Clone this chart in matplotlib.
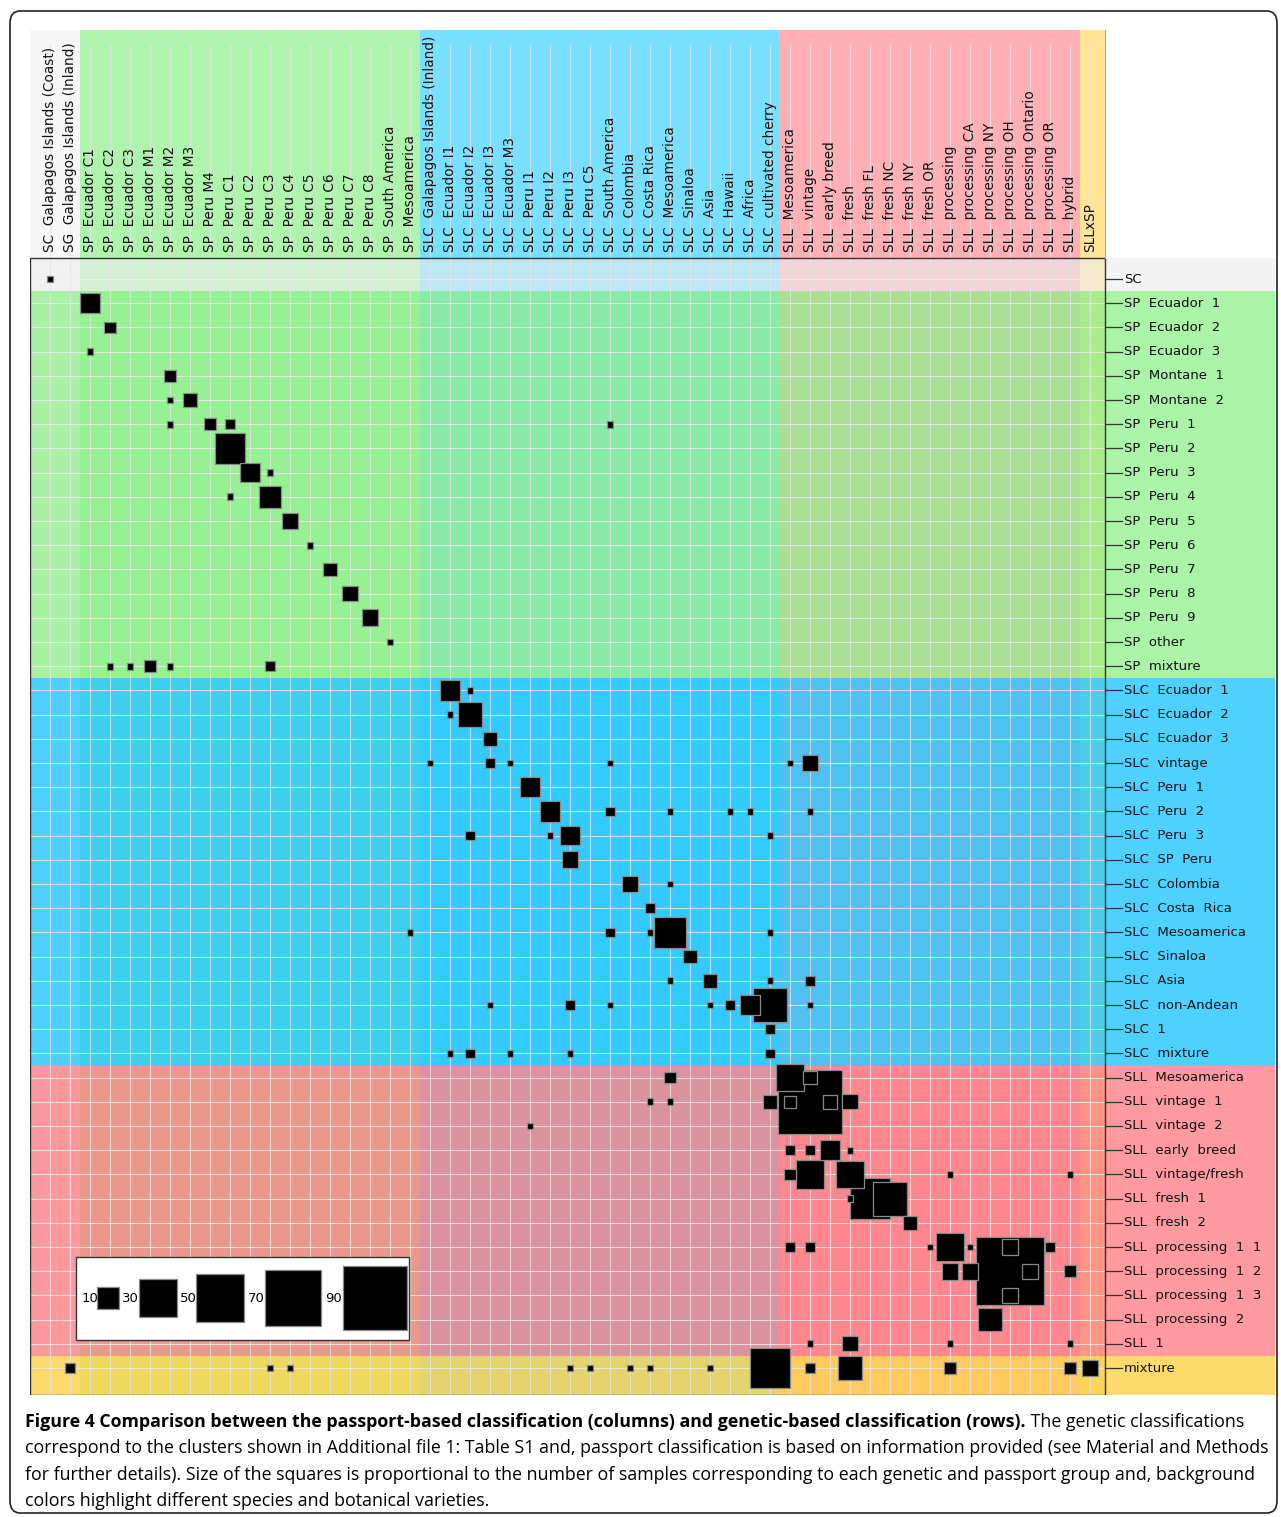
import matplotlib
matplotlib.use("Agg")
import matplotlib.pyplot as plt
from matplotlib.patches import Rectangle, FancyBboxPatch
import numpy as np

col_labels = ["SC  Galapagos Islands (Coast)", "SG  Galapagos Islands (Inland)",
    "SP  Ecuador C1", "SP  Ecuador C2", "SP  Ecuador C3", "SP  Ecuador M1", "SP  Ecuador M2", "SP  Ecuador M3",
    "SP  Peru M4", "SP  Peru C1", "SP  Peru C2", "SP  Peru C3", "SP  Peru C4", "SP  Peru C5", "SP  Peru C6",
    "SP  Peru C7", "SP  Peru C8", "SP  South America", "SP  Mesoamerica",
    "SLC  Galapagos Islands (Inland)", "SLC  Ecuador I1", "SLC  Ecuador I2", "SLC  Ecuador I3", "SLC  Ecuador M3",
    "SLC  Peru I1", "SLC  Peru I2", "SLC  Peru I3", "SLC  Peru C5", "SLC  South America", "SLC  Colombia",
    "SLC  Costa Rica", "SLC  Mesoamerica", "SLC  Sinaloa", "SLC  Asia", "SLC  Hawaii", "SLC  Africa",
    "SLC  cultivated cherry",
    "SLL  Mesoamerica", "SLL  vintage", "SLL  early breed", "SLL  fresh", "SLL  fresh FL", "SLL  fresh NC",
    "SLL  fresh NY", "SLL  fresh OR", "SLL  processing", "SLL  processing CA", "SLL  processing NY",
    "SLL  processing OH", "SLL  processing Ontario", "SLL  processing OR", "SLL  hybrid", "SLLxSP"]

row_labels = ["SC", "SP  Ecuador  1", "SP  Ecuador  2", "SP  Ecuador  3", "SP  Montane  1", "SP  Montane  2",
    "SP  Peru  1", "SP  Peru  2", "SP  Peru  3", "SP  Peru  4", "SP  Peru  5", "SP  Peru  6", "SP  Peru  7",
    "SP  Peru  8", "SP  Peru  9", "SP  other", "SP  mixture",
    "SLC  Ecuador  1", "SLC  Ecuador  2", "SLC  Ecuador  3", "SLC  vintage", "SLC  Peru  1", "SLC  Peru  2",
    "SLC  Peru  3", "SLC  SP  Peru", "SLC  Colombia", "SLC  Costa  Rica", "SLC  Mesoamerica", "SLC  Sinaloa",
    "SLC  Asia", "SLC  non-Andean", "SLC  1", "SLC  mixture",
    "SLL  Mesoamerica", "SLL  vintage  1", "SLL  vintage  2", "SLL  early  breed", "SLL  vintage/fresh",
    "SLL  fresh  1", "SLL  fresh  2", "SLL  processing  1  1", "SLL  processing  1  2",
    "SLL  processing  1  3", "SLL  processing  2", "SLL  1", "mixture"]

# (row index, column index, count)
cell_row = [0, 1, 2, 3, 4, 5, 5, 6, 6, 6, 6, 7, 8, 8, 9, 9, 10, 11, 12, 13, 14, 15,
            16, 16, 16, 16, 16,
            17, 17, 18, 18, 19, 20, 20, 20, 20, 20, 20, 21, 22, 22, 22, 22, 22, 22,
            23, 23, 23, 23, 24, 25, 25, 26, 27, 27, 27, 27, 27, 28, 29, 29, 29, 29,
            30, 30, 30, 30, 30, 30, 30, 30, 31, 32, 32, 32, 32, 32,
            33, 33, 33, 34, 34, 34, 34, 34, 34, 34, 35, 36, 36, 36, 36,
            37, 37, 37, 37, 37, 38, 38, 38, 39,
            40, 40, 40, 40, 40, 40, 40, 41, 41, 41, 41, 41, 42, 43, 44, 44, 44, 44,
            45, 45, 45, 45, 45, 45, 45, 45, 45, 45, 45, 45, 45, 45]
cell_col = [0, 2, 3, 2, 6, 6, 7, 6, 8, 9, 28, 9, 10, 11, 9, 11, 12, 13, 14, 15, 16, 17,
            3, 4, 5, 6, 11,
            20, 21, 20, 21, 22, 19, 22, 23, 28, 37, 38, 24, 25, 28, 31, 34, 35, 38,
            21, 25, 26, 36, 26, 29, 31, 30, 18, 28, 30, 31, 36, 32, 31, 33, 36, 38,
            22, 26, 28, 33, 34, 35, 36, 38, 36, 20, 21, 23, 26, 36,
            31, 37, 38, 36, 37, 38, 39, 40, 30, 31, 24, 37, 38, 39, 40,
            37, 38, 40, 45, 51, 41, 42, 40, 43,
            37, 38, 44, 45, 46, 48, 50, 45, 46, 48, 49, 51, 48, 47, 38, 40, 45, 51,
            1, 11, 12, 26, 27, 29, 30, 33, 36, 38, 40, 45, 51, 52]
cell_n = [1, 9, 3, 1, 3, 1, 4, 1, 3, 2, 1, 20, 8, 1, 1, 11, 5, 1, 4, 5, 6, 1,
          1, 1, 3, 1, 2,
          9, 1, 1, 13, 4, 1, 2, 1, 1, 1, 5, 9, 9, 2, 1, 1, 1, 1,
          2, 1, 8, 1, 6, 5, 1, 2, 1, 2, 1, 21, 1, 4, 1, 4, 1, 2,
          1, 2, 1, 1, 2, 9, 24, 1, 2, 1, 2, 1, 1, 2,
          3, 16, 4, 4, 3, 90, 4, 5, 1, 1, 1, 2, 2, 9, 1,
          3, 18, 16, 1, 1, 36, 25, 1, 4,
          2, 2, 1, 18, 1, 5, 2, 6, 6, 100, 5, 3, 5, 12, 1, 5, 1, 1,
          2, 1, 1, 1, 1, 1, 1, 1, 33, 2, 12, 3, 3, 6]

legend_values = [10, 30, 50, 70, 90]

caption_bold = "Figure 4 Comparison between the passport-based classification (columns) and genetic-based classification (rows)."
caption_rest = [" The genetic classifications",
    "correspond to the clusters shown in Additional file 1: Table S1 and, passport classification is based on information provided (see Material and Methods",
    "for further details). Size of the squares is proportional to the number of samples corresponding to each genetic and passport group and, background",
    "colors highlight different species and botanical varieties."]

W, H = 1281, 1517
fig = plt.figure(figsize=(W / 100, H / 100), dpi=100)
plt.rcParams['font.family'] = ['DejaVu Sans']

def px2c(x): return (x - 50) / 20.0
def py2r(y): return (y - 279) / 24.2

ax = fig.add_axes([30 / W, (H - 1395) / H, 1245 / W, 1365 / H])
ax.set_xlim(px2c(30), px2c(1275))
ax.set_ylim(py2r(1395), py2r(30))
ax.axis("off")

c_left, c_right = px2c(30), px2c(1105)
r_top_hdr, r_top, r_bot = py2r(30), py2r(258), py2r(1395)

col_groups = [(c_left, 1.5, "#f4f4f4"), (1.5, 18.5, "#8ef08a"), (18.5, 36.5, "#3fd2ff"),
              (36.5, 51.5, "#ff8f96"), (51.5, c_right, "#ffd966")]
for a, b, colr in col_groups:
    ax.add_patch(Rectangle((a, r_top_hdr), b - a, r_bot - r_top_hdr, color=colr, alpha=0.7, lw=0, zorder=0))

row_groups = [(r_top, 0.5, "#eeeeee", 0.6), (0.5, 16.5, "#8ef08a", 0.75), (16.5, 32.5, "#22c6ff", 0.8),
              (32.5, 44.5, "#ff7a80", 0.75), (44.5, r_bot, "#ffd24a", 0.8)]
for a, b, colr, al in row_groups:
    ax.add_patch(Rectangle((c_left, a), px2c(1275) - c_left, b - a, color=colr, alpha=al, lw=0, zorder=1))

for c in range(len(col_labels)):
    ax.plot([c, c], [r_top_hdr + 0.6, r_bot], color="#e4e4e4", lw=0.8, alpha=0.8, zorder=2)
for r in range(len(row_labels)):
    ax.plot([c_left, c_right], [r, r], color="#eeeeee", lw=0.8, alpha=0.8, zorder=2)

ax.add_patch(Rectangle((c_left, r_top), c_right - c_left, r_bot - r_top, fill=False, ec="#333333", lw=1.0, zorder=5))
ax.plot([c_right, c_right], [r_top_hdr, r_top], color="#aaaaaa", lw=0.8, zorder=5)

K = 6.8
def side(n):
    s = K * np.sqrt(n)
    return s / 20.0, s / 24.2

order = np.argsort(cell_n)[::-1]
for i in order:
    w, h = side(cell_n[i])
    ax.add_patch(Rectangle((cell_col[i] - w / 2, cell_row[i] - h / 2), w, h, fc="black",
                           ec="#8a8a8a", lw=0.9, zorder=6))

for c, lab in enumerate(col_labels):
    ax.text(c, r_top - 0.25, lab, rotation=90, ha="center", va="bottom", fontsize=9.8, color="#111111", zorder=7)

for r, lab in enumerate(row_labels):
    ax.plot([c_right, px2c(1122)], [r, r], color="#333333", lw=0.9, zorder=7)
    ax.text(px2c(1124), r, lab, ha="left", va="center", fontsize=9.5, color="#111111", zorder=7)

lx0, lx1, ly0, ly1 = px2c(76), px2c(409), py2r(1257), py2r(1340)
ax.add_patch(Rectangle((lx0, ly0), lx1 - lx0, ly1 - ly0, fc="white", ec="#333333", lw=1.0, zorder=8))
leg_text_x = [90, 130, 188, 256, 334]
leg_sq_x = [108, 158, 220, 293, 375]
ly = py2r(1298)
for v, tx, sx in zip(legend_values, leg_text_x, leg_sq_x):
    w, h = side(v)
    ax.text(px2c(tx), ly, str(v), ha="center", va="center", fontsize=9.5, zorder=9)
    ax.add_patch(Rectangle((px2c(sx) - w / 2, ly - h / 2), w, h, fc="black", ec="#8a8a8a", lw=0.9, zorder=9))

fig.patches.append(FancyBboxPatch((10 / W, 4 / H), 1267 / W, 1502 / H, boxstyle="round,pad=0,rounding_size=0.008",
                                  transform=fig.transFigure, fill=False, ec="#222222", lw=1.2))

fs = 12.8
y0 = 1422
t = fig.text(25 / W, 1 - y0 / H, caption_bold, fontsize=fs, fontweight="bold", va="center", ha="left",
             family="Open Sans")
fig.canvas.draw()
bb = t.get_window_extent()
fig.text(bb.x1 / W, 1 - y0 / H, caption_rest[0], fontsize=fs, va="center", ha="left", family="Open Sans")
for k, line in enumerate(caption_rest[1:]):
    fig.text(25 / W, 1 - (y0 + 26.3 * (k + 1)) / H, line, fontsize=fs, va="center", ha="left", family="Open Sans")

fig.savefig("out.png", dpi=100)
